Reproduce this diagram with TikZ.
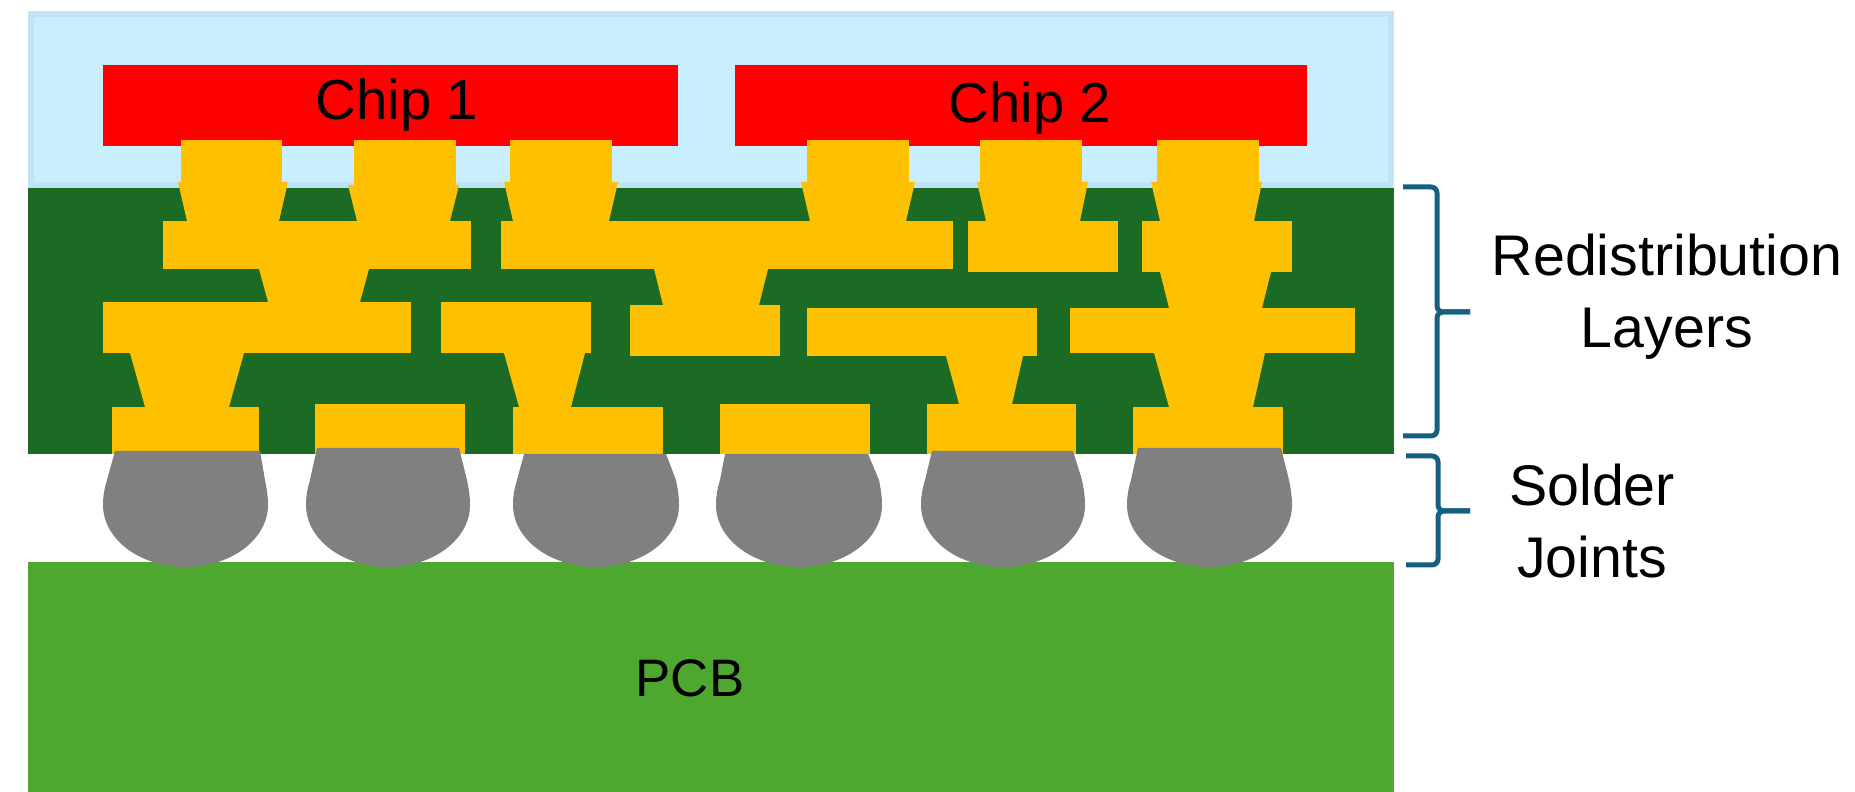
\documentclass[tikz,border=0pt]{standalone}
\usepackage{fontspec}
\setmainfont{Liberation Sans}
\definecolor{skyedge}{RGB}{192,228,245}
\definecolor{skyfill}{RGB}{201,238,254}
\definecolor{rdlgreen}{RGB}{27,107,37}
\definecolor{pcbgreen}{RGB}{78,167,46}
\definecolor{copper}{RGB}{255,192,0}
\definecolor{solder}{RGB}{128,128,128}
\definecolor{bracket}{RGB}{21,96,130}
\tikzset{
  chiplabel/.style={anchor=base, font=\fontsize{16}{19}\selectfont},
  pcblabel/.style={anchor=base, font=\fontsize{15}{18}\selectfont},
  sidelabel/.style={align=center, font=\fontsize{16.3}{20.5}\selectfont},
  bracketline/.style={draw=bracket, line width=0.05cm, rounded corners=0.06cm}
}
\begin{document}
\begin{tikzpicture}[x=0.01cm, y=-0.01cm]
        \useasboundingbox (0, 0) rectangle (1855, 792);
        \fill[skyedge] (28, 11) rectangle (1394, 188);
        \fill[skyfill] (34, 17) rectangle (1388, 182);
        \fill[rdlgreen] (28, 188) rectangle (1394, 454);
        \fill[pcbgreen] (28, 562) rectangle (1394, 792);
        \fill[red] (103, 65) rectangle (678, 146);
        \fill[red] (735, 65) rectangle (1307, 146);
        \foreach \xa/\ya/\xb/\yb in {181/140/282/183, 354/140/456/186, 510/140/612/183,
            807/140/909/183, 980/140/1082/183, 1157/140/1259/183,
            163/221/471/269, 501/221/953/269, 968/221/1118/272, 1142/221/1292/272,
            103/302/411/353, 441/302/591/353, 630/305/780/356, 807/308/1037/356, 1070/308/1355/353,
            112/407/259/454, 315/404/465/454, 513/407/663/454, 720/404/870/454, 927/404/1076/454, 1133/407/1283/454} {
          \fill[copper] (\xa, \ya) rectangle (\xb, \yb);
        }
        \foreach \ya/\yb/\la/\ra/\lb/\rb in {182/221/178/288/187/279, 185/221/348/459/357/450, 182/221/504/618/513/609,
            182/221/801/915/810/906, 182/221/977/1088/986/1080, 182/221/1151/1262/1160/1254,
            269/302/259/369/268/360, 269/305/654/768/663/759, 272/308/1160/1271/1169/1262,
            353/407/130/244/145/229, 353/407/504/585/519/571, 356/404/946/1023/959/1012, 353/407/1154/1265/1169/1253} {
          \fill[copper] (\la, \ya) -- (\ra, \ya) -- (\rb, \yb) -- (\lb, \yb) -- cycle;
        }
        \foreach \l/\r/\t/\cx/\rx in {115/260/451/185.5/82.5, 317/459/448/388/82, 524/666/454/596/83,
            725/868/454/799/83, 932/1073/451/1003/82, 1138/1281/448/1209.5/82.5} {
          \fill[solder] (\l, \t) -- (\r, \t) -- (\cx+\rx-3, 480)
            .. controls (\cx+\rx-1, 490) and (\cx+\rx, 497) .. (\cx+\rx, 505)
            arc[start angle=0, end angle=180, x radius=\rx, y radius=62]
            .. controls (\cx-\rx, 497) and (\cx-\rx+1, 490) .. (\cx-\rx+4, 480) -- cycle;
        }
        \foreach \xa/\xb/\ya/\ym/\yb in {1403/1437/187/312/436, 1406/1438/456/511/565} {
          \draw[bracketline] (\xa, \ya) -- (\xb, \ya) -- (\xb, \ym) -- (1470, \ym);
          \draw[bracketline] (\xa, \yb) -- (\xb, \yb) -- (\xb, \ym) -- (1470, \ym);
        }
        \node[chiplabel] (chip1) at (397, 120) {Chip 1};
        \node[chiplabel] (chip2) at (1030, 123) {Chip 2};
        \node[pcblabel] (pcb) at (690, 697) {PCB};
        \node[sidelabel] (rdl) at (1667, 297) {Redistribution\\Layers};
        \node[sidelabel] (joints) at (1592, 521) {Solder\\Joints};
\end{tikzpicture}
\end{document}
